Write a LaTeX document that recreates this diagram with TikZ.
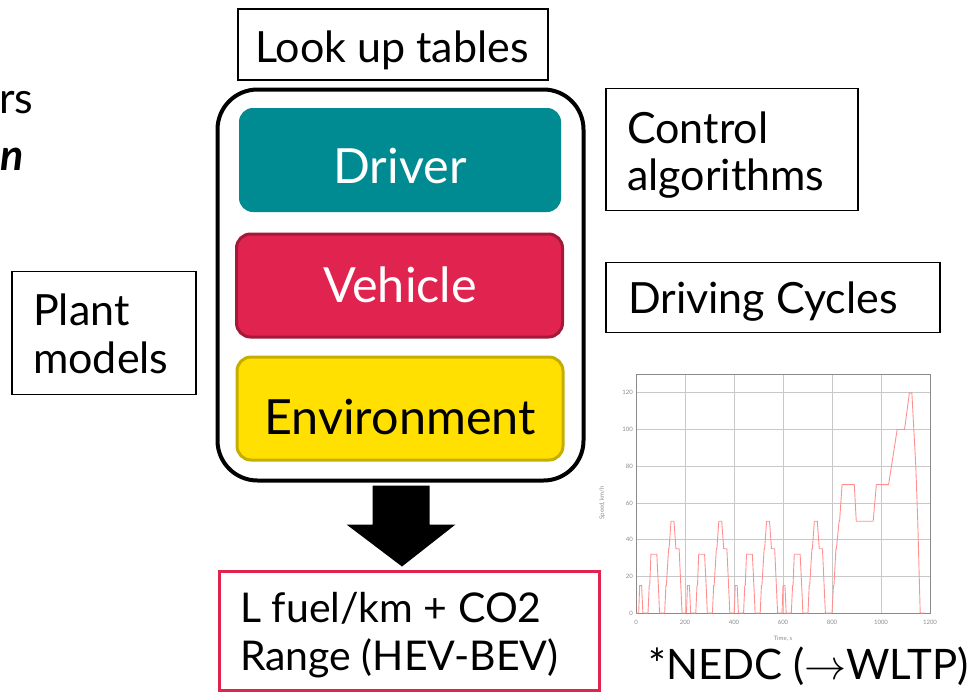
\RequirePackage{fix-cm}
\documentclass[tikz,border=0pt]{standalone}
\usepackage{fontspec}
\setmainfont{Lato}
\usetikzlibrary{calc}

\definecolor{driverteal}{HTML}{008A91}
\definecolor{vehred}{HTML}{E0234F}
\definecolor{vehredline}{HTML}{A6183A}
\definecolor{envyellow}{HTML}{FFE000}
\definecolor{envline}{HTML}{C4AE00}
\definecolor{cyclered}{HTML}{FF9090}
\definecolor{gridgray}{HTML}{C8C8C8}
\definecolor{axisgray}{HTML}{8A8A8A}

% two stacked lines whose reference point is the first baseline
\newcommand\stackedtext[2]{\vtop{\hbox{#1}\hbox{#2}}}

\tikzset{
  labelbox/.style={draw=black, line width=1.3pt, inner sep=0pt},
  labeltext/.style={inner sep=0pt, font=\fontsize{43}{48}\selectfont},
  layerbox/.style={rounded corners=14pt, inner sep=0pt,
    minimum width=326pt, minimum height=103pt},
  layertext/.style={inner sep=0pt, anchor=base, font=\fontsize{48.5}{54}\selectfont},
  ticklbl/.style={font=\fontsize{6}{7}\selectfont, text=axisgray, inner sep=1pt},
}

\begin{document}
\begin{tikzpicture}[x=1pt, y=-1pt]
\useasboundingbox (0,0) rectangle (970,694);

% partially visible text at the left edge
\node[labeltext, anchor=base west] (tl1) at (-1,113) {rs};
\node[labeltext, anchor=base west, font=\fontsize{43}{48}\selectfont\bfseries\itshape] (tl2) at (0,170) {n};

% look-up tables label
\node[labelbox, minimum width=310pt, minimum height=71pt] (lookup) at (393,44.5) {};
\node[labeltext, anchor=base] (lookuptxt) at (392,62) {Look up tables};

% simulation frame with its three layers
\node[draw=black, line width=4pt, rounded corners=40pt,
      minimum width=366pt, minimum height=391pt] (outer) at (400.5,285) {};
\node[layerbox, fill=driverteal, minimum width=322pt, minimum height=104pt] (driver) at (400,160) {};
\node[layertext, text=white] (drivertxt) at (400,183) {Driver};
\node[layerbox, fill=vehred, draw=vehredline, line width=3pt] (vehicle) at (399.5,285.5) {};
\node[layertext, text=white] (vehicletxt) at (400,302) {Vehicle};
\node[layerbox, fill=envyellow, draw=envline, line width=3pt] (env) at (400,408.5) {};
\node[layertext, text=black] (envtxt) at (400,434) {Environment};

% side labels
\node[labelbox, minimum width=252pt, minimum height=122pt] (ctrl) at (732,149.5) {};
\node[labeltext, anchor=base west, font=\fontsize{43}{47}\selectfont] (ctrltxt) at (627,143)
  {\stackedtext{Control}{algorithms}};
\node[labelbox, minimum width=334pt, minimum height=70pt] (cycles) at (773,297.5) {};
\node[labeltext, anchor=base west] (cyclestxt) at (628,313) {Driving Cycles};
\node[labelbox, minimum width=184pt, minimum height=123pt] (plant) at (104,333) {};
\node[labeltext, anchor=base west] (planttxt) at (33,325) {\stackedtext{Plant}{models}};

% results
\node[draw=vehred, line width=3pt, inner sep=0pt, minimum width=380pt, minimum height=119pt] (result) at (409,630.5) {};
\node[inner sep=0pt, anchor=base west, font=\fontsize{41}{48}\selectfont] (resulttxt) at (240,622)
  {\stackedtext{L fuel/km + CO2}{Range (HEV-BEV)}};

% block arrow from the frame to the results
\fill[black] ($(outer.south)+(-28,3)$) -- ++(57,0) -- ++(0,39) -- ++(26,0)
  -- ($(result.north)+(-7,-3)$) -- ($(outer.south)+(-54,42)$) -- ++(26,0) -- cycle;

% driving cycle chart
\begin{scope}[shift={(636,613)}, x=0.245pt, y=1.835pt]
  \foreach \gx in {200,400,...,1000}
    \draw[gridgray, line width=0.8pt] (\gx,0) -- (\gx,130);
  \foreach \gy in {20,40,...,120}
    \draw[gridgray, line width=0.8pt] (0,\gy) -- (1200,\gy);
  \draw[axisgray, line width=0.9pt] (0,0) rectangle (1200,130);
  \foreach \gx in {0,200,...,1200}
    \node[ticklbl, anchor=north] (xt\gx) at (\gx,-3) {\gx};
  \foreach \gy in {0,20,...,120}
    \node[ticklbl, anchor=east] (yt\gy) at (-8,\gy) {\gy};
  \node[ticklbl, anchor=north] (xlab) at (600,-12) {Time, s};
  \node[ticklbl, rotate=90] (ylab) at (-138,60) {Speed, km/h};
  % four urban segments
  \foreach \o in {0,195,390,585}
    \draw[cyclered, line width=0.9pt, line join=round, shift={(\o,0)}]
      (0,0) -- (11,0) -- (15,15) -- (23,15) -- (28,0) -- (49,0) -- (54,15) -- (56,15)
      -- (61,32) -- (85,32) -- (93,10) -- (96,0) -- (117,0) -- (122,15) -- (124,15)
      -- (133,35) -- (135,35) -- (143,50) -- (155,50) -- (163,35) -- (176,35)
      -- (188,0) -- (195,0);
  % extra-urban segment
  \draw[cyclered, line width=0.9pt, line join=round]
    (780,0) -- (800,0) -- (806,15) -- (808,15) -- (816,35) -- (818,35) -- (829,50)
    -- (831,50) -- (841,70) -- (891,70) -- (899,50) -- (968,50) -- (981,70)
    -- (1031,70) -- (1066,100) -- (1096,100) -- (1116,120) -- (1126,120)
    -- (1142,80) -- (1150,50) -- (1160,0) -- (1180,0);
\end{scope}

\node[anchor=base west, inner sep=0pt, font=\fontsize{42}{48}\selectfont] (nedc) at (648,679)
  {*NEDC (\ensuremath{\rightarrow}WLTP)};
\end{tikzpicture}
\end{document}
